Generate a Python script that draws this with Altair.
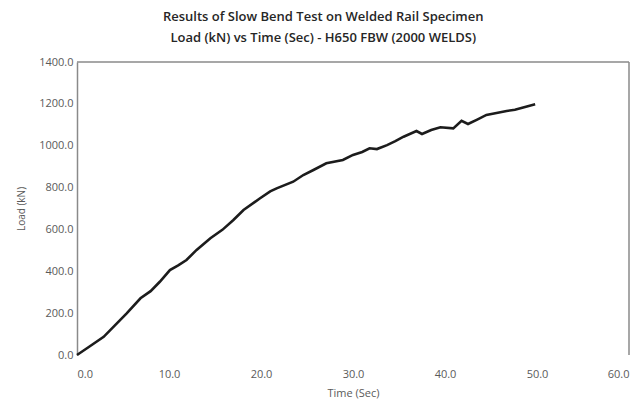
import altair as alt
import pandas as pd

time_sec = [0.0, 1.4, 2.9, 4.2, 5.4, 6.9, 8.0, 9.0, 10.1, 11.0, 11.9, 13.0, 14.5,
            15.8, 17.0, 18.1, 19.9, 21.0, 21.7, 23.5, 24.6, 25.7, 27.1, 28.9, 30.0,
            31.0, 31.8, 32.6, 33.7, 34.6, 35.5, 36.9, 37.5, 38.5, 39.5, 40.9, 41.8,
            42.5, 43.5, 44.5, 45.6, 46.7, 47.6, 48.5, 49.8]
load_kn = [0, 42, 87, 145, 199, 271, 305, 350, 406, 428, 454, 502, 558,
           598, 645, 693, 749, 782, 796, 828, 860, 884, 916, 932, 956,
           970, 988, 984, 1003, 1022, 1043, 1070, 1056, 1075, 1088, 1083, 1119,
           1104, 1125, 1147, 1156, 1166, 1172, 1183, 1198]

x_ticks = [0, 10, 20, 30, 40, 50, 60]
y_ticks = [0, 200, 400, 600, 800, 1000, 1200, 1400]

df = pd.DataFrame({"t": time_sec, "load": load_kn})
frame = pd.DataFrame({"x0": [0, 60], "x1": [60, 60], "y0": [1400, 0], "y1": [1400, 1400]})

xs = alt.Scale(domain=[0, 60], nice=False)
ys = alt.Scale(domain=[0, 1400], nice=False)

line = alt.Chart(df).mark_line(color="#1c1c1c", strokeWidth=2.6).encode(
    x=alt.X("t:Q", scale=xs, title="Time (Sec)",
            axis=alt.Axis(values=x_ticks, format=".1f", grid=False, domain=False,
                          ticks=False, labelPadding=13, labelFont="Open Sans",
                          labelFontSize=11, labelColor="#5a5a5a", titleFont="Open Sans",
                          titleFontSize=11, titleFontWeight="normal", titleColor="#5a5a5a",
                          titlePadding=8)),
    y=alt.Y("load:Q", scale=ys, title="Load (kN)",
            axis=alt.Axis(values=y_ticks, format=".1f", grid=False, domain=True,
                          domainColor="#8a8a8a", domainWidth=1.5, ticks=False,
                          labelPadding=4, labelFont="Open Sans", labelFontSize=11,
                          labelColor="#5a5a5a", titleFont="Open Sans", titleFontSize=10,
                          titleFontWeight="normal", titleColor="#5a5a5a", titlePadding=12)),
)

border = alt.Chart(frame).mark_rule(color="#8a8a8a", strokeWidth=1.5).encode(
    x=alt.X("x0:Q", scale=xs), x2="x1:Q",
    y=alt.Y("y0:Q", scale=ys), y2="y1:Q",
)

chart = alt.layer(border, line).properties(
    width=552, height=293,
    title=alt.TitleParams(
        ["Results of Slow Bend Test on Welded Rail Specimen",
         "Load (kN) vs Time (Sec) - H650 FBW (2000 WELDS)"],
        font="Open Sans", fontSize=13, fontWeight=600, color="#262626",
        anchor="middle", frame="bounds", lineHeight=21, offset=11),
    autosize=alt.AutoSizeParams(type="none"),
    padding={"left": 69, "top": 54, "right": 1, "bottom": 48},
).configure_view(stroke=None)

chart.save("out.html", embed_options={"renderer": "svg", "actions": False})
